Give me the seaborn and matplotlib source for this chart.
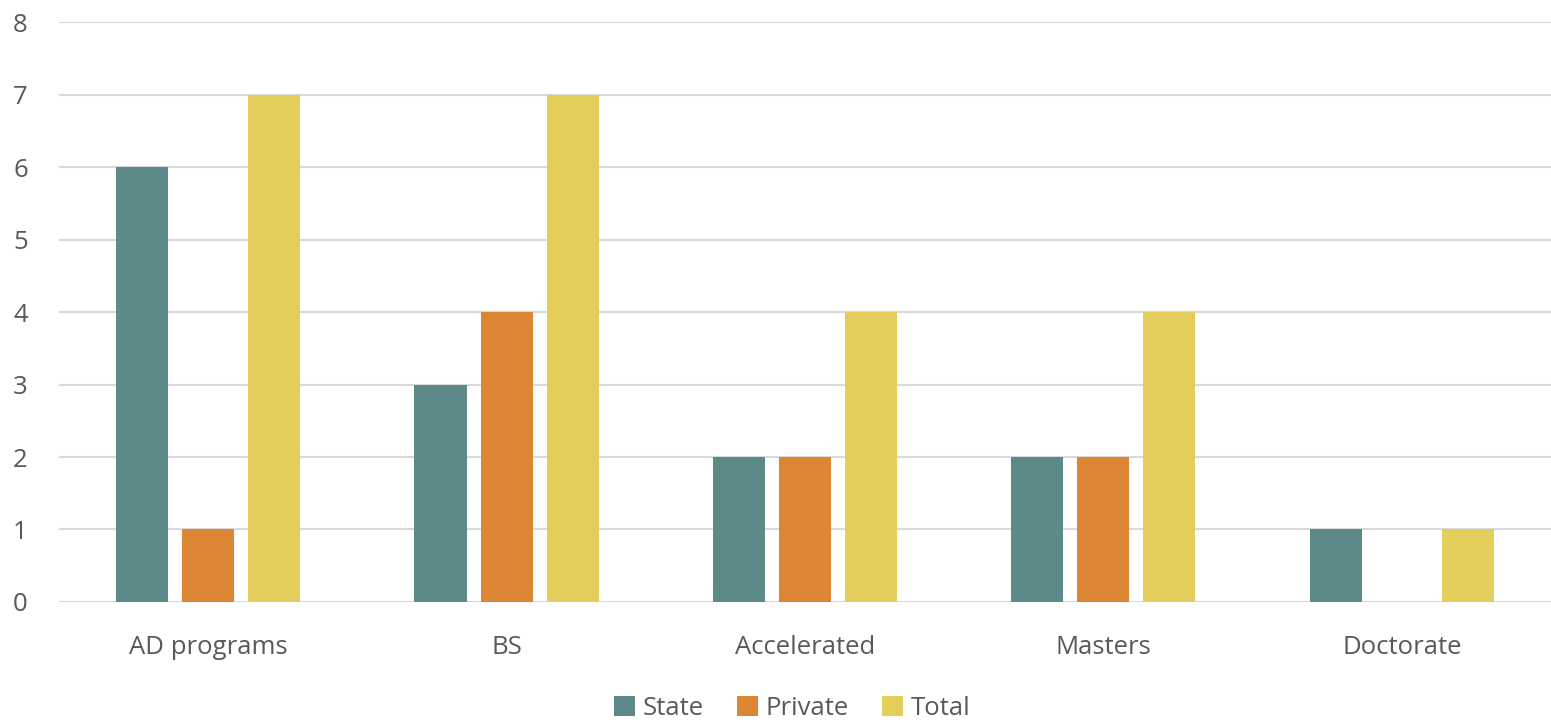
import pandas as pd
import matplotlib
matplotlib.use("Agg")
import matplotlib.pyplot as plt
import seaborn as sns

categories = ["AD programs", "BS", "Accelerated", "Masters", "Doctorate"]
state = [6, 3, 2, 2, 1]
private = [1, 4, 2, 2, 0]
total = [7, 7, 4, 4, 1]
series = ["State", "Private", "Total"]
colors = ["#5B8A89", "#DC8532", "#E3CD5B"]

df = pd.DataFrame({
    "category": categories * 3,
    "series": ["State"] * 5 + ["Private"] * 5 + ["Total"] * 5,
    "value": state + private + total,
})

sns.set_style("white")
plt.rcParams["font.family"] = ["Open Sans", "DejaVu Sans"]

fig = plt.figure(figsize=(15.51, 7.2), dpi=100)
ax = fig.add_axes([0.038, 0.1639, 0.962, 0.8055])

sns.barplot(data=df, x="category", y="value", hue="series", hue_order=series,
            palette=colors, width=0.664, gap=0.212, saturation=1, ax=ax,
            errorbar=None, linewidth=0, zorder=3)

ax.set_ylim(0, 8)
ax.set_yticks(range(0, 9))
ax.set_xlim(-0.5, 4.5)
ax.grid(axis="y", color="#D9D9D9", linewidth=1.5, zorder=0)
ax.set_axisbelow(True)
for s in ax.spines.values():
    s.set_visible(False)
ax.set_xlabel("")
ax.set_ylabel("")
ax.tick_params(axis="both", length=0, labelsize=18.5, colors="#595959")
ax.tick_params(axis="x", pad=24)
ax.tick_params(axis="y", pad=33)
for lbl in ax.get_yticklabels():
    lbl.set_horizontalalignment("left")

ax.legend(loc="lower center", bbox_to_anchor=(0.4915, -0.245), ncol=3, frameon=False,
          fontsize=18.5, labelcolor="#595959", handlelength=0.8, handleheight=0.8,
          handletextpad=0.3, columnspacing=1.3)

fig.savefig("out.png", dpi=100)
